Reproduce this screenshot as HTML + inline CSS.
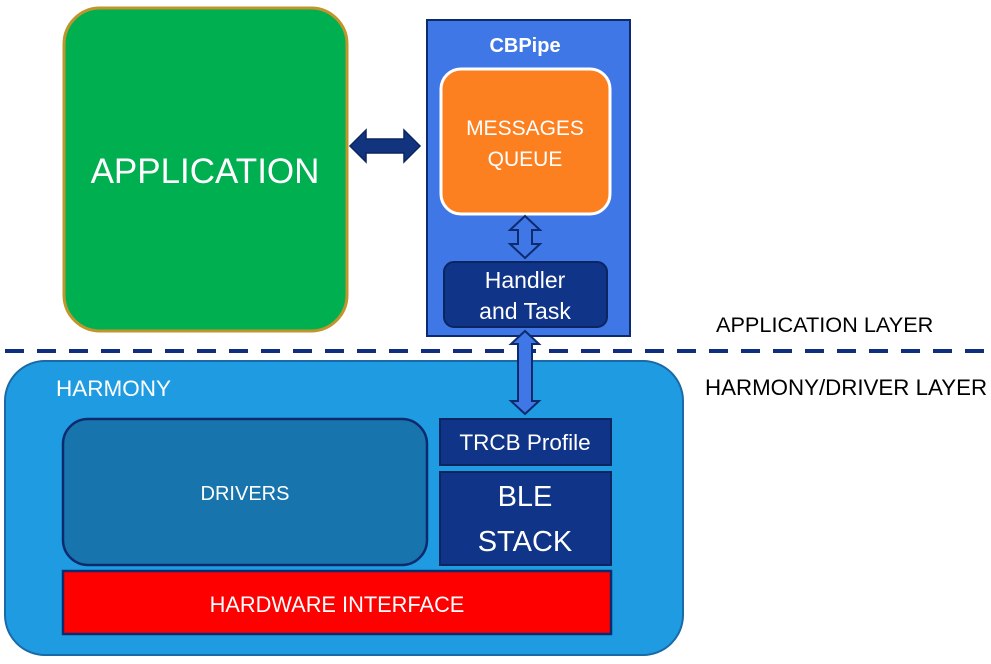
<!DOCTYPE html>
<html><head><meta charset="utf-8"><style>
html,body{margin:0;padding:0;background:#fff;}
svg{display:block;}
text{font-family:"Liberation Sans",sans-serif;fill:#fff;}
</style></head><body>
<svg width="991" height="664" viewBox="0 0 991 664" xmlns="http://www.w3.org/2000/svg">
<rect x="64" y="8" width="283" height="323" rx="36" fill="#00b050" stroke="#c0962c" stroke-width="3"/>
<text x="205" y="183" font-size="35" text-anchor="middle">APPLICATION</text>
<polygon points="350,146 366,130 366,139 404,139 404,130 420,146 404,162 404,153 366,153 366,162" fill="#12347f" stroke="#0b2560" stroke-width="1.5"/>
<rect x="427" y="20" width="203" height="316" fill="#3f77e7" stroke="#0e2a6e" stroke-width="2"/>
<text x="525" y="52" font-size="20" font-weight="bold" text-anchor="middle">CBPipe</text>
<rect x="441" y="69" width="169" height="145" rx="20" fill="#fd8020" stroke="#fff" stroke-width="3"/>
<text x="525" y="135" font-size="21" text-anchor="middle">MESSAGES</text>
<text x="525" y="166" font-size="21" text-anchor="middle">QUEUE</text>
<polygon points="525,216 540,230 532,230 532,244 540,244 525,258 510,244 518,244 518,230 510,230" fill="#3f77e7" stroke="#0e2a6e" stroke-width="2"/>
<rect x="444" y="262" width="163" height="65" rx="10" fill="#0f3488" stroke="#0b2560" stroke-width="2"/>
<text x="525" y="288" font-size="23" text-anchor="middle">Handler</text>
<text x="525" y="319" font-size="23" text-anchor="middle">and Task</text>
<line x1="5" y1="351" x2="985" y2="351" stroke="#0e2f80" stroke-width="4" stroke-dasharray="19 13"/>
<rect x="5" y="361" width="678" height="294" rx="40" fill="#1f9ce1" stroke="#1a6aa8" stroke-width="2"/>
<text x="56" y="396" font-size="22.5" text-anchor="start">HARMONY</text>
<polygon points="525,331 539,344 532,344 532,401 539,401 525,414 511,401 518,401 518,344 511,344" fill="#3f77e7" stroke="#0e2a6e" stroke-width="2"/>
<rect x="63" y="419" width="364" height="146" rx="25" fill="#1874ac" stroke="#0e2a6e" stroke-width="2.5"/>
<text x="245" y="500" font-size="20" text-anchor="middle">DRIVERS</text>
<rect x="440" y="419" width="171" height="46" fill="#0f3488" stroke="#0b2560" stroke-width="2"/>
<text x="525" y="450" font-size="22.5" text-anchor="middle">TRCB Profile</text>
<rect x="440" y="472" width="171" height="93" fill="#0f3488" stroke="#0b2560" stroke-width="2"/>
<text x="525" y="506" font-size="29" text-anchor="middle">BLE</text>
<text x="525" y="551" font-size="29" text-anchor="middle">STACK</text>
<rect x="63" y="571" width="548" height="63" fill="#ff0000" stroke="#0e2a6e" stroke-width="2.5"/>
<text x="337" y="612" font-size="21.8" text-anchor="middle">HARDWARE INTERFACE</text>
<text x="716" y="332" font-size="21.7" style="fill:#000">APPLICATION LAYER</text>
<text x="705" y="395" font-size="22.3" style="fill:#000">HARMONY/DRIVER LAYER</text>
</svg>
</body></html>
